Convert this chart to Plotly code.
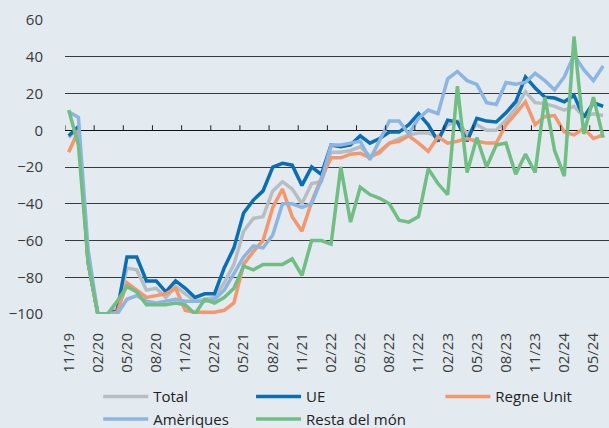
import plotly.graph_objects as go

# monthly series, 11/19 .. 06/24
total = [-4, 1, -72, -100, -100, -97, -75, -76, -87, -86,
         -91, -85, -89, -93, -92, -91, -83, -73, -55, -48,
         -47, -33, -28, -32, -40, -29, -28, -12, -12, -11,
         -9, -14, -12.5, -7, -4.5, -2.5, -1.5, -1.5, -4, 3,
         5, -2, 3, 0, 0, 5.5, 12, 21, 15, 14.5,
         13, 11, 13, 7.5, 9, 8]
ue = [-3, 2, -72, -100, -100, -98, -69, -69, -82, -82,
      -88, -82, -86, -91, -89, -89, -75, -64, -45, -38,
      -33, -20, -18, -19, -30, -20, -24, -8, -9, -8,
      -3, -7, -4.5, -1, -1, 3, 9, 3, -6, 5.5,
      4.5, -6, 6.5, 5, 4.5, 9.5, 15.5, 29, 23, 18,
      17.5, 15.5, 19, 7, 15, 13]
regne_unit = [-12, 0, -72, -100, -100, -99, -83, -87, -91, -90,
              -89, -86, -98, -99, -99, -99, -98, -94, -73, -66,
              -60, -42, -32, -47, -55, -39, -26, -15, -15, -13,
              -12.5, -15, -11.5, -7, -6, -3, -7, -11.5, -3.5, -7,
              -6, -4.5, -6, -7, -7, 3, 9, 15.5, 3, 7.5,
              8, -1, -2.5, 1, -4.5, -2.5]
ameriques = [10, 7, -65, -100, -100, -100, -92, -90, -93, -94,
             -93, -92, -93, -93, -93, -92, -87, -78, -69, -63,
             -64, -57, -40, -40, -42, -40, -27, -8, -8, -7,
             -6, -16, -5, 5, 5, -2, 6.5, 11, 9, 28,
             32, 27, 25, 15, 14, 26, 25, 26, 31, 27,
             22, 29, 41, 33, 27, 35]
resta_mon = [11, -8, -72, -100, -100, -93, -85, -88, -95, -95,
             -95, -94, -95, -100, -92, -94, -91, -86, -74, -76,
             -73, -73, -73, -70, -79, -60, -60, -62, -20, -50,
             -31, -35, -37, -40, -49, -50, -47, -21, -29, -35,
             24, -23, -4, -20, -8, -7, -24, -13, -23, 18,
             -11, -25, 51, -2, 18, -4]

tick_labels = ["11/19", "02/20", "05/20", "08/20", "11/20", "02/21", "05/21",
               "08/21", "11/21", "02/22", "05/22", "08/22", "11/22", "02/23",
               "05/23", "08/23", "11/23", "02/24", "05/24"]

months = list(range(len(total)))
tick_pos = [3 * k for k in range(len(tick_labels))]

series = [
    ("Total", total, "#b6bec4", "legend"),
    ("UE", ue, "#0a6eb4", "legend2"),
    ("Regne Unit", regne_unit, "#f4976c", "legend3"),
    ("Amèriques", ameriques, "#8db5e2", "legend"),
    ("Resta del món", resta_mon, "#70be83", "legend2"),
]

fig = go.Figure()
for name, vals, color, leg in series:
    fig.add_trace(go.Scatter(x=months, y=vals, mode="lines", name=name,
                             line=dict(color=color, width=3.5), legend=leg))

# small tick marks sitting on the zero line
for p in tick_pos:
    fig.add_shape(type="line", xref="x", yref="y", x0=p - 0.38, x1=p - 0.38,
                  ysizemode="pixel", yanchor=0, y0=0, y1=5,
                  line=dict(color="#222222", width=1))

bg = "#e3eaf0"
leg_common = dict(orientation="v", bgcolor="rgba(0,0,0,0)", yanchor="top",
                  font=dict(family="Open Sans", size=15, color="#222222"),
                  itemwidth=45, tracegroupgap=0)
fig.update_layout(
    width=609, height=428,
    margin=dict(l=65, r=0, t=20, b=114, autoexpand=False),
    paper_bgcolor=bg, plot_bgcolor=bg,
    font=dict(family="Open Sans", size=15, color="#3a3a3a"),
    legend=dict(x=0.061, y=-0.225, **leg_common),
    legend2=dict(x=0.342, y=-0.225, **leg_common),
    legend3=dict(x=0.690, y=-0.225, **leg_common),
)
fig.update_xaxes(range=[-0.38, 55.6], tickvals=tick_pos, ticktext=tick_labels,
                 tickangle=-90, showgrid=False, zeroline=False, showline=False,
                 ticks="", ticklabelstandoff=15, automargin=False,
                 tickfont=dict(family="Open Sans", size=15, color="#3a3a3a"))
fig.update_yaxes(range=[-100, 60], dtick=20, showgrid=True, gridcolor="#3a3a3a",
                 gridwidth=1, zeroline=True, zerolinecolor="#111111", zerolinewidth=1,
                 showline=False, ticks="", ticklabelstandoff=21, automargin=False,
                 tickfont=dict(family="Open Sans", size=15, color="#3a3a3a"))

fig.write_html("out.html", config={"displayModeBar": False},
               post_script="document.body.style.margin = '0';")
